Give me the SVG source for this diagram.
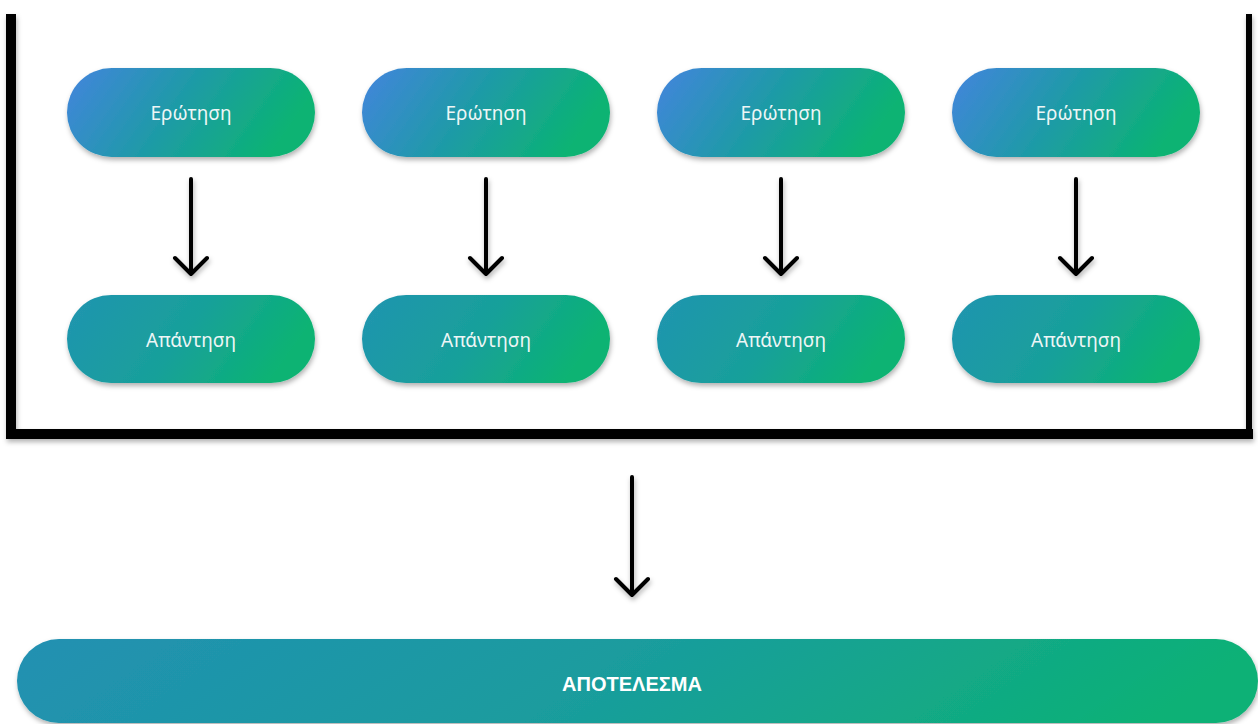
<svg xmlns="http://www.w3.org/2000/svg" width="1258" height="724" viewBox="0 0 1258 724">
<defs>
<linearGradient id="gq" x1="0" y1="0" x2="1" y2="0.25">
<stop offset="0" stop-color="#4384de"/>
<stop offset="0.5" stop-color="#1f9aa8"/>
<stop offset="1" stop-color="#0bb373"/>
</linearGradient>
<linearGradient id="ga" x1="0" y1="0" x2="1" y2="0.25">
<stop offset="0" stop-color="#2194b0"/>
<stop offset="0.55" stop-color="#18a09a"/>
<stop offset="1" stop-color="#0bb373"/>
</linearGradient>
<linearGradient id="gr" x1="0" y1="0" x2="1" y2="0.1">
<stop offset="0" stop-color="#2290b2"/>
<stop offset="0.5" stop-color="#1a9c9e"/>
<stop offset="1" stop-color="#0db176"/>
</linearGradient>
<filter id="sh" x="-10%" y="-20%" width="120%" height="150%">
<feDropShadow dx="1" dy="3" stdDeviation="2.5" flood-color="#000" flood-opacity="0.3"/>
</filter>
<style>
.n{font-family:"Noto Sans","DejaVu Sans",sans-serif;font-size:19px;fill:#eef6f6;text-anchor:middle;dominant-baseline:central}
.b{font-family:"Liberation Sans","Noto Sans",sans-serif;font-size:20px;font-weight:bold;fill:#fff;text-anchor:middle;dominant-baseline:central}
.c{fill:none;stroke:#000;stroke-width:4;stroke-linecap:round;stroke-linejoin:round}
</style>
</defs>
<rect width="1258" height="724" fill="#fff"/>
<g id="frame" filter="url(#sh)">
<rect x="6" y="14" width="10" height="425" fill="#000"/>
<rect x="6" y="429" width="1247" height="10" fill="#000"/>
<rect x="1246" y="14" width="6" height="425" fill="#000"/>
</g>
<g id="q1"><rect x="67" y="68" width="248" height="89" rx="44.5" fill="url(#gq)" filter="url(#sh)"/><text class="n" x="191" y="113">Ερώτηση</text></g>
<g id="q2"><rect x="362" y="68" width="248" height="89" rx="44.5" fill="url(#gq)" filter="url(#sh)"/><text class="n" x="486" y="113">Ερώτηση</text></g>
<g id="q3"><rect x="657" y="68" width="248" height="89" rx="44.5" fill="url(#gq)" filter="url(#sh)"/><text class="n" x="781" y="113">Ερώτηση</text></g>
<g id="q4"><rect x="952" y="68" width="248" height="89" rx="44.5" fill="url(#gq)" filter="url(#sh)"/><text class="n" x="1076" y="113">Ερώτηση</text></g>
<g id="a1"><rect x="67" y="295" width="248" height="88" rx="44" fill="url(#ga)" filter="url(#sh)"/><text class="n" x="191" y="340">Απάντηση</text></g>
<g id="a2"><rect x="362" y="295" width="248" height="88" rx="44" fill="url(#ga)" filter="url(#sh)"/><text class="n" x="486" y="340">Απάντηση</text></g>
<g id="a3"><rect x="657" y="295" width="248" height="88" rx="44" fill="url(#ga)" filter="url(#sh)"/><text class="n" x="781" y="340">Απάντηση</text></g>
<g id="a4"><rect x="952" y="295" width="248" height="88" rx="44" fill="url(#ga)" filter="url(#sh)"/><text class="n" x="1076" y="340">Απάντηση</text></g>
<g id="result"><rect x="17" y="639" width="1241" height="84" rx="42" fill="url(#gr)" filter="url(#sh)"/><text class="b" x="632" y="684">ΑΠΟΤΕΛΕΣΜΑ</text></g>
<g id="connectors" filter="url(#sh)">
<path class="c" d="M191 179 V274 M175 258 L191 274 L207 258"/>
<path class="c" d="M486 179 V274 M470 258 L486 274 L502 258"/>
<path class="c" d="M781 179 V274 M765 258 L781 274 L797 258"/>
<path class="c" d="M1076 179 V274 M1060 258 L1076 274 L1092 258"/>
<path class="c" d="M632 477 V595 M616 579 L632 595 L648 579"/>
</g>
</svg>
